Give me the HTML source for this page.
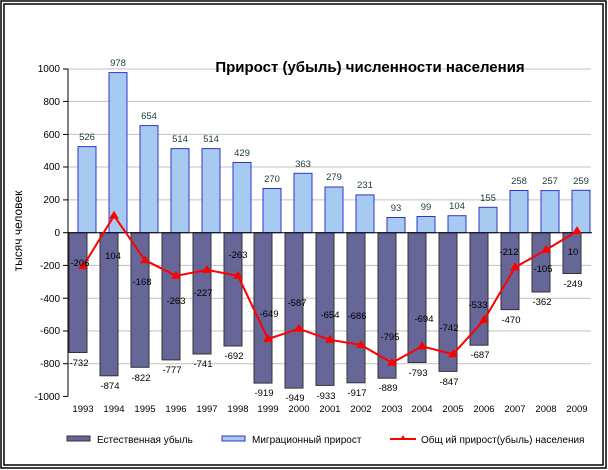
<!DOCTYPE html>
<html><head><meta charset="utf-8"><style>body{margin:0;background:#fff}svg{display:block;font-family:"Liberation Sans",sans-serif}</style></head><body>
<svg width="608" height="470" viewBox="0 0 608 470">
<rect x="1" y="1" width="605" height="467" fill="none" stroke="#000" stroke-width="1.5"/>
<rect x="4" y="4" width="599" height="461" fill="none" stroke="#000" stroke-width="1.5"/>
<g stroke="#c0c0c0" stroke-width="1">
<line x1="68" x2="591" y1="69" y2="69"/><line x1="68" x2="591" y1="101.4" y2="101.4"/><line x1="68" x2="591" y1="134.4" y2="134.4"/><line x1="68" x2="591" y1="167" y2="167"/><line x1="68" x2="591" y1="199.9" y2="199.9"/>
<line x1="68" x2="591" y1="265.4" y2="265.4"/><line x1="68" x2="591" y1="298.2" y2="298.2"/><line x1="68" x2="591" y1="331" y2="331"/><line x1="68" x2="591" y1="363.7" y2="363.7"/>
</g>
<g fill="#666699" stroke="#333" stroke-width="1">
<rect x="69" y="232.7" width="18" height="119.8"/><rect x="100" y="232.7" width="18" height="143.1"/><rect x="131" y="232.7" width="18" height="134.6"/><rect x="162" y="232.7" width="18" height="127.2"/><rect x="193" y="232.7" width="18" height="121.3"/><rect x="224" y="232.7" width="18" height="113.3"/><rect x="254" y="232.7" width="18" height="150.4"/><rect x="285" y="232.7" width="18" height="155.4"/><rect x="316" y="232.7" width="18" height="152.7"/><rect x="347" y="232.7" width="18" height="150.1"/><rect x="378" y="232.7" width="18" height="145.5"/><rect x="408" y="232.7" width="18" height="129.8"/><rect x="439" y="232.7" width="18" height="138.7"/><rect x="470" y="232.7" width="18" height="112.5"/><rect x="501" y="232.7" width="18" height="76.9"/><rect x="532" y="232.7" width="18" height="59.3"/><rect x="563" y="232.7" width="18" height="40.8"/>
</g>
<g fill="#a6caf0" stroke="#3333cc" stroke-width="1">
<rect x="78" y="146.6" width="18" height="86.1"/><rect x="109" y="72.6" width="18" height="160.1"/><rect x="140" y="125.6" width="18" height="107.1"/><rect x="171" y="148.6" width="18" height="84.1"/><rect x="202" y="148.6" width="18" height="84.1"/><rect x="233" y="162.5" width="18" height="70.2"/><rect x="263" y="188.5" width="18" height="44.2"/><rect x="294" y="173.3" width="18" height="59.4"/><rect x="325" y="187" width="18" height="45.7"/><rect x="356" y="194.9" width="18" height="37.8"/><rect x="387" y="217.5" width="18" height="15.2"/><rect x="417" y="216.5" width="18" height="16.2"/><rect x="448" y="215.7" width="18" height="17"/><rect x="479" y="207.3" width="18" height="25.4"/><rect x="510" y="190.5" width="18" height="42.2"/><rect x="541" y="190.6" width="18" height="42.1"/><rect x="572" y="190.3" width="18" height="42.4"/>
</g>
<g stroke="#000" stroke-width="1">
<line x1="68" y1="69" x2="68" y2="396.4"/><line x1="68" y1="232.7" x2="592" y2="232.7"/>
<line x1="63" x2="68" y1="69" y2="69"/><line x1="63" x2="68" y1="101.4" y2="101.4"/><line x1="63" x2="68" y1="134.4" y2="134.4"/><line x1="63" x2="68" y1="167" y2="167"/><line x1="63" x2="68" y1="199.9" y2="199.9"/><line x1="63" x2="68" y1="232.7" y2="232.7"/><line x1="63" x2="68" y1="265.4" y2="265.4"/><line x1="63" x2="68" y1="298.2" y2="298.2"/><line x1="63" x2="68" y1="331" y2="331"/><line x1="63" x2="68" y1="363.7" y2="363.7"/><line x1="63" x2="68" y1="396.4" y2="396.4"/>
</g>
<polyline fill="none" stroke="#ff0000" stroke-width="2" points="83,266.4 114,215.7 145,260.2 176,275.8 207,269.9 238,275.8 268,339 299,328.8 330,339.8 361,345 392,362.8 422,346.3 453,354.2 484,320 515,267.4 546,249.9 577,231.1"/>
<g fill="#ff0000">
<path d="M83 261l5 8h-10z"/><path d="M114 210.7l5 8h-10z"/><path d="M145 255.2l5 8h-10z"/><path d="M176 270.8l5 8h-10z"/><path d="M207 264.9l5 8h-10z"/><path d="M238 270.8l5 8h-10z"/><path d="M268 334l5 8h-10z"/><path d="M299 323.8l5 8h-10z"/><path d="M330 334.8l5 8h-10z"/><path d="M361 340l5 8h-10z"/><path d="M392 357.8l5 8h-10z"/><path d="M422 341.3l5 8h-10z"/><path d="M453 349.2l5 8h-10z"/><path d="M484 315l5 8h-10z"/><path d="M515 262.4l5 8h-10z"/><path d="M546 244.9l5 8h-10z"/><path d="M577 226.1l5 8h-10z"/>
</g>
<g font-size="10" fill="#000" text-anchor="end">
<text x="60" y="72">1000</text><text x="60" y="105">800</text><text x="60" y="138">600</text><text x="60" y="170">400</text><text x="60" y="203">200</text><text x="60" y="236">0</text><text x="60" y="269">-200</text><text x="60" y="302">-400</text><text x="60" y="334">-600</text><text x="60" y="367">-800</text><text x="60" y="400">-1000</text>
</g>
<text transform="translate(22,231) rotate(-90)" font-size="12" text-anchor="middle">тысяч человек</text>
<text x="370" y="72" font-size="15" font-weight="bold" text-anchor="middle">Прирост (убыль) численности населения</text>
<g font-size="9.5" fill="#000" text-anchor="middle">
<text x="83" y="412">1993</text><text x="114" y="412">1994</text><text x="145" y="412">1995</text><text x="176" y="412">1996</text><text x="207" y="412">1997</text><text x="238" y="412">1998</text><text x="268" y="412">1999</text><text x="299" y="412">2000</text><text x="330" y="412">2001</text><text x="361" y="412">2002</text><text x="392" y="412">2003</text><text x="422" y="412">2004</text><text x="453" y="412">2005</text><text x="484" y="412">2006</text><text x="515" y="412">2007</text><text x="546" y="412">2008</text><text x="577" y="412">2009</text>
</g>
<g font-size="9.5" fill="#1a3a3a" text-anchor="middle">
<text x="87" y="140">526</text><text x="118" y="66">978</text><text x="149" y="119">654</text><text x="180" y="142">514</text><text x="211" y="142">514</text><text x="242" y="156">429</text><text x="272" y="182">270</text><text x="303" y="167">363</text><text x="334" y="180">279</text><text x="365" y="188">231</text><text x="396" y="211">93</text><text x="426" y="210">99</text><text x="457" y="209">104</text><text x="488" y="201">155</text><text x="519" y="184">258</text><text x="550" y="184">257</text><text x="581" y="184">259</text>
</g>
<g font-size="9.5" fill="#000" text-anchor="middle">
<text x="79" y="366">-732</text><text x="110" y="389">-874</text><text x="141" y="381">-822</text><text x="172" y="373">-777</text><text x="203" y="367">-741</text><text x="234" y="359">-692</text><text x="264" y="396">-919</text><text x="295" y="401">-949</text><text x="326" y="399">-933</text><text x="357" y="396">-917</text><text x="388" y="391">-889</text><text x="418" y="376">-793</text><text x="449" y="385">-847</text><text x="480" y="358">-687</text><text x="511" y="323">-470</text><text x="542" y="305">-362</text><text x="573" y="287">-249</text>
</g>
<g font-size="9.5" fill="#000" text-anchor="middle">
<text x="80" y="266">-206</text><text x="113" y="259">104</text><text x="142" y="285">-168</text><text x="176" y="304">-263</text><text x="203" y="296">-227</text><text x="238" y="258">-263</text><text x="269" y="317">-649</text><text x="297" y="306">-587</text><text x="330" y="318">-654</text><text x="357" y="319">-686</text><text x="390" y="340">-795</text><text x="424" y="322">-694</text><text x="449" y="331">-742</text><text x="478" y="308">-533</text><text x="509" y="255">-212</text><text x="543" y="272">-105</text><text x="573" y="255">10</text>
</g>
<rect x="67" y="436" width="23" height="5" fill="#666699" stroke="#333"/>
<text x="97" y="443" font-size="10">Естественная убыль</text>
<rect x="222" y="436" width="23" height="5" fill="#a6caf0" stroke="#3333cc"/>
<text x="252" y="443" font-size="10">Миграционный прирост</text>
<line x1="390" y1="439" x2="416" y2="439" stroke="#ff0000" stroke-width="2"/>
<path d="M403 435l3 5h-6z" fill="#ff0000"/>
<text x="421" y="443" font-size="10">Общ ий прирост(убыль) населения</text>
</svg>
</body></html>
